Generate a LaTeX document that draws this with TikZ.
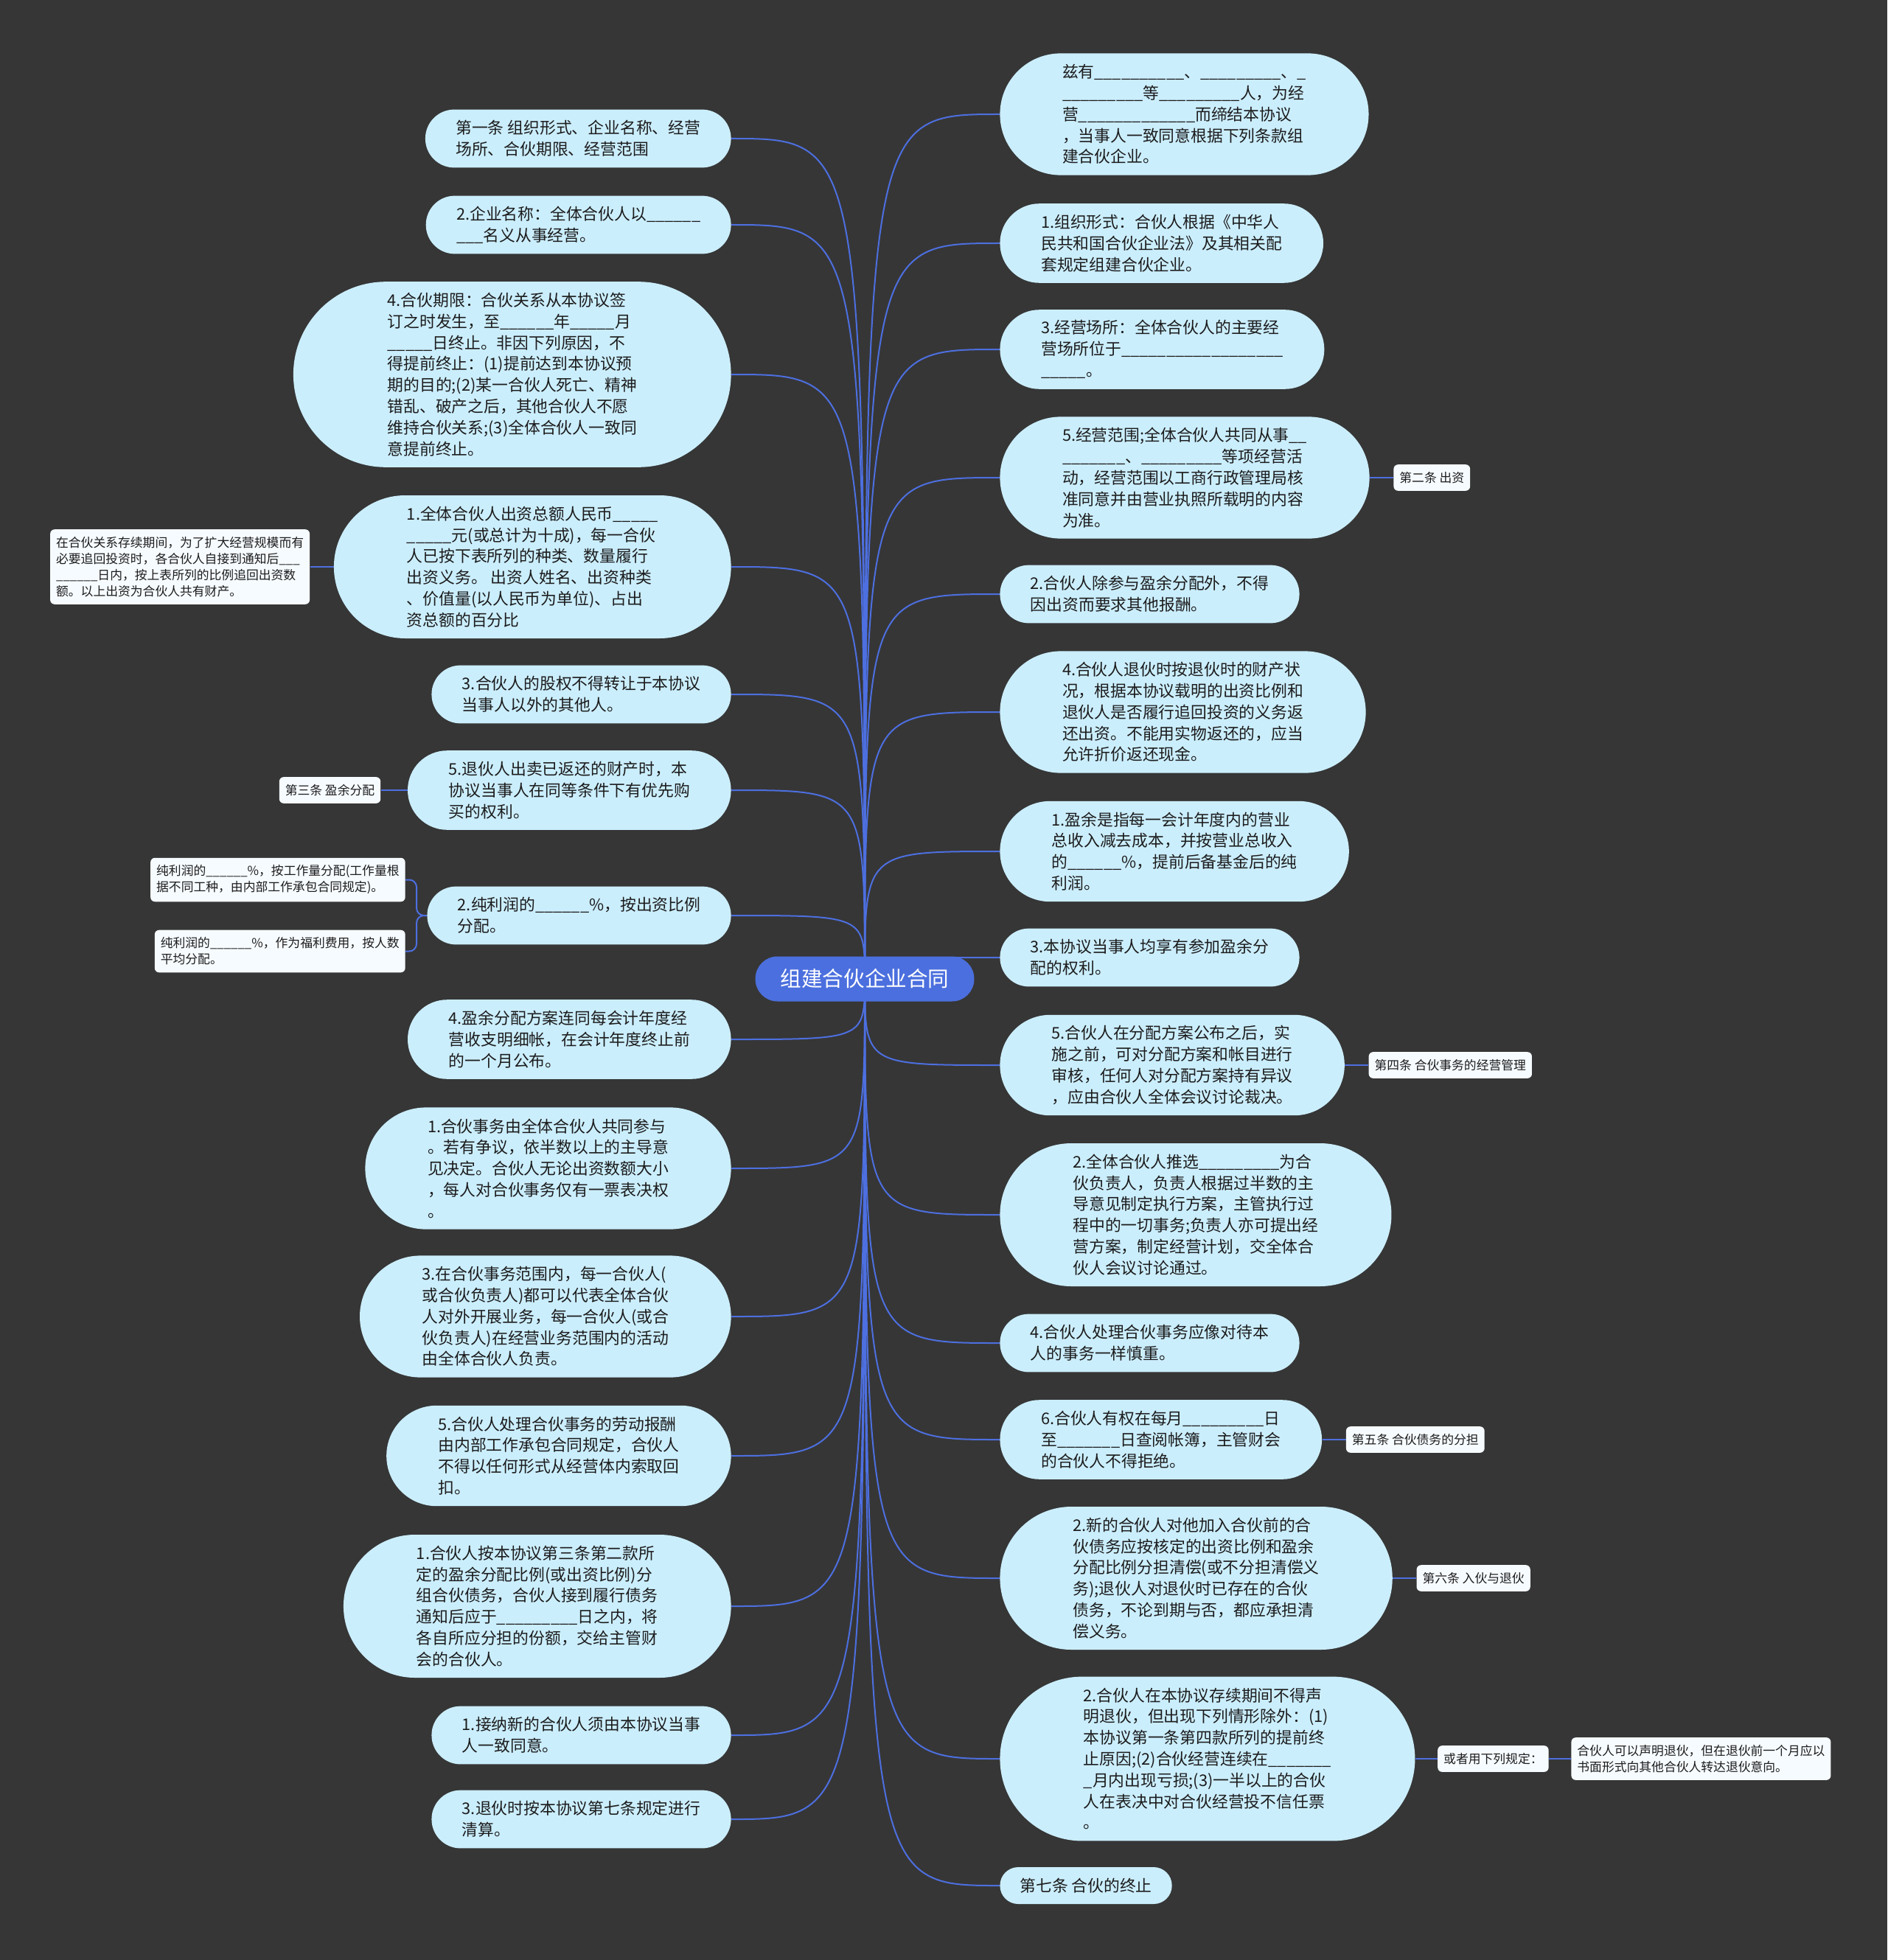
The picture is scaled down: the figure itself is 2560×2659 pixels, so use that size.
\documentclass[tikz,border=0pt]{standalone}
\usepackage{fontspec}
\newfontfamily\cjk{Noto Sans CJK SC}
\usetikzlibrary{positioning}
\definecolor{bgdark}{HTML}{363636}
\definecolor{leafblue}{HTML}{CBEEFD}
\definecolor{leaftext}{HTML}{1C1C1C}
\definecolor{notewhite}{HTML}{F6FBFF}
\definecolor{rootblue}{HTML}{4B6FDE}
\definecolor{lineblue}{HTML}{4D6FE0}
\pgfdeclarelayer{back}
\pgfdeclarelayer{edges}
\pgfsetlayers{back,edges,main}
\newcommand{\blank}[1]{\foreach \k in {1,...,#1}{\_}}

\begin{document}
\begin{tikzpicture}[x=0.5pt, y=-0.5pt]
	\def\xl{992}
	\def\xr{1356}
	\tikzset{leaf/.style={rectangle, fill=leafblue, text=leaftext, font=\cjk\fontsize{10.9}{14.4}\selectfont, align=left, inner ysep=3pt, minimum height=14.4pt*#1+10.6pt, inner xsep=7.2pt*#1+6.3pt, rounded corners=7.2pt*#1+5.2pt}}
	\tikzstyle{note}=[rectangle, rounded corners=3pt, fill=notewhite, text=leaftext, font=\cjk\fontsize{8.4}{11}\selectfont, align=left, inner xsep=4pt, inner ysep=5pt]
	\tikzstyle{rootnode}=[rectangle, rounded corners=15pt, fill=rootblue, text=white, font=\cjk\fontsize{14.3}{17}\selectfont, minimum height=30.5pt, inner xsep=17pt, inner ysep=0pt]
	\tikzstyle{edge}=[draw=lineblue, line width=1pt]
	\useasboundingbox (0,0) rectangle (2560,2659);
	\begin{pgfonlayer}{back}
		\fill[bgdark] (0,0) rectangle (2560,2659);
	\end{pgfonlayer}
	\node[rootnode] (root) at (1173,1328) {组建合伙企业合同};
	\node[leaf=2, anchor=east] (L1) at (\xl,188) {第一条 组织形式、企业名称、经营\\场所、合伙期限、经营范围};
	\node[leaf=2, anchor=east] (L2) at (\xl,305) {2.企业名称：全体合伙人以\blank{6}\\\blank{3}名义从事经营。};
	\node[leaf=8, anchor=east] (L3) at (\xl,508) {4.合伙期限：合伙关系从本协议签\\订之时发生，至\blank{6}年\blank{5}月\\\blank{5}日终止。非因下列原因，不\\得提前终止：(1)提前达到本协议预\\期的目的;(2)某一合伙人死亡、精神\\错乱、破产之后，其他合伙人不愿\\维持合伙关系;(3)全体合伙人一致同\\意提前终止。};
	\node[leaf=6, anchor=east] (L4) at (\xl,769) {1.全体合伙人出资总额人民币\blank{5}\\\blank{5}元(或总计为十成)，每一合伙\\人已按下表所列的种类、数量履行\\出资义务。 出资人姓名、出资种类\\、价值量(以人民币为单位)、占出\\资总额的百分比};
	\node[leaf=2, anchor=east] (L5) at (\xl,942) {3.合伙人的股权不得转让于本协议\\当事人以外的其他人。};
	\node[leaf=3, anchor=east] (L6) at (\xl,1072) {5.退伙人出卖已返还的财产时，本\\协议当事人在同等条件下有优先购\\买的权利。};
	\node[leaf=2, anchor=east] (L7) at (\xl,1242) {2.纯利润的\blank{6}\%，按出资比例\\分配。};
	\node[leaf=3, anchor=east] (L8) at (\xl,1410) {4.盈余分配方案连同每会计年度经\\营收支明细帐，在会计年度终止前\\的一个月公布。};
	\node[leaf=5, anchor=east] (L9) at (\xl,1585) {1.合伙事务由全体合伙人共同参与\\。若有争议，依半数以上的主导意\\见决定。合伙人无论出资数额大小\\，每人对合伙事务仅有一票表决权\\。};
	\node[leaf=5, anchor=east] (L10) at (\xl,1786) {3.在合伙事务范围内，每一合伙人(\\或合伙负责人)都可以代表全体合伙\\人对外开展业务，每一合伙人(或合\\伙负责人)在经营业务范围内的活动\\由全体合伙人负责。};
	\node[leaf=4, anchor=east] (L11) at (\xl,1975) {5.合伙人处理合伙事务的劳动报酬\\由内部工作承包合同规定，合伙人\\不得以任何形式从经营体内索取回\\扣。};
	\node[leaf=6, anchor=east] (L12) at (\xl,2179) {1.合伙人按本协议第三条第二款所\\定的盈余分配比例(或出资比例)分\\组合伙债务，合伙人接到履行债务\\通知后应于\blank{9}日之内，将\\各自所应分担的份额，交给主管财\\会的合伙人。};
	\node[leaf=2, anchor=east] (L13) at (\xl,2354) {1.接纳新的合伙人须由本协议当事\\人一致同意。};
	\node[leaf=2, anchor=east] (L14) at (\xl,2468) {3.退伙时按本协议第七条规定进行\\清算。};
	\node[leaf=5, anchor=west] (R1) at (\xr,155) {兹有\blank{10}、\blank{9}、\blank{1}\\\blank{9}等\blank{9}人，为经\\营\blank{13}而缔结本协议\\，当事人一致同意根据下列条款组\\建合伙企业。};
	\node[leaf=3, anchor=west] (R2) at (\xr,330) {1.组织形式：合伙人根据《中华人\\民共和国合伙企业法》及其相关配\\套规定组建合伙企业。};
	\node[leaf=3, anchor=west] (R3) at (\xr,474) {3.经营场所：全体合伙人的主要经\\营场所位于\blank{18}\\\blank{5}。};
	\node[leaf=5, anchor=west] (R4) at (\xr,648) {5.经营范围;全体合伙人共同从事\blank{2}\\\blank{7}、\blank{9}等项经营活\\动，经营范围以工商行政管理局核\\准同意并由营业执照所载明的内容\\为准。};
	\node[leaf=2, anchor=west] (R5) at (\xr,806) {2.合伙人除参与盈余分配外，不得\\因出资而要求其他报酬。};
	\node[leaf=5, anchor=west] (R6) at (\xr,966) {4.合伙人退伙时按退伙时的财产状\\况，根据本协议载明的出资比例和\\退伙人是否履行追回投资的义务返\\还出资。不能用实物返还的，应当\\允许折价返还现金。};
	\node[leaf=4, anchor=west] (R7) at (\xr,1155) {1.盈余是指每一会计年度内的营业\\总收入减去成本，并按营业总收入\\的\blank{6}\%，提前后备基金后的纯\\利润。};
	\node[leaf=2, anchor=west] (R8) at (\xr,1299) {3.本协议当事人均享有参加盈余分\\配的权利。};
	\node[leaf=4, anchor=west] (R9) at (\xr,1445) {5.合伙人在分配方案公布之后，实\\施之前，可对分配方案和帐目进行\\审核，任何人对分配方案持有异议\\，应由合伙人全体会议讨论裁决。};
	\node[leaf=6, anchor=west] (R10) at (\xr,1648) {2.全体合伙人推选\blank{9}为合\\伙负责人，负责人根据过半数的主\\导意见制定执行方案，主管执行过\\程中的一切事务;负责人亦可提出经\\营方案，制定经营计划，交全体合\\伙人会议讨论通过。};
	\node[leaf=2, anchor=west] (R11) at (\xr,1822) {4.合伙人处理合伙事务应像对待本\\人的事务一样慎重。};
	\node[leaf=3, anchor=west] (R12) at (\xr,1953) {6.合伙人有权在每月\blank{9}日\\至\blank{7}日查阅帐簿，主管财会\\的合伙人不得拒绝。};
	\node[leaf=6, anchor=west] (R13) at (\xr,2141) {2.新的合伙人对他加入合伙前的合\\伙债务应按核定的出资比例和盈余\\分配比例分担清偿(或不分担清偿义\\务);退伙人对退伙时已存在的合伙\\债务，不论到期与否，都应承担清\\偿义务。};
	\node[leaf=7, anchor=west] (R14) at (\xr,2386) {2.合伙人在本协议存续期间不得声\\明退伙，但出现下列情形除外：(1)\\本协议第一条第四款所列的提前终\\止原因;(2)合伙经营连续在\blank{7}\\\blank{1}月内出现亏损;(3)一半以上的合伙\\人在表决中对合伙经营投不信任票\\。};
	\node[leaf=1, anchor=west] (R15) at (\xr,2558) {第七条 合伙的终止};
	\node[note, left=16pt of L4] (N1) {在合伙关系存续期间，为了扩大经营规模而有\\必要追回投资时，各合伙人自接到通知后\blank{3}\\\blank{6}日内，按上表所列的比例追回出资数\\额。以上出资为合伙人共有财产。};
	\node[note, left=18pt of L6] (C3) {第三条 盈余分配};
	\node[note, anchor=east] (P1) at ([xshift=-14.5pt, yshift=24.25pt]L7.west) {纯利润的\blank{6}\%，按工作量分配(工作量根\\据不同工种，由内部工作承包合同规定)。};
	\node[note, anchor=east] (P2) at ([xshift=-14.5pt, yshift=-24.25pt]L7.west) {纯利润的\blank{6}\%，作为福利费用，按人数\\平均分配。};
	\node[note, right=16pt of R4] (C2) {第二条 出资};
	\node[note, right=16pt of R9] (C4) {第四条 合伙事务的经营管理};
	\node[note, right=16pt of R12] (C5) {第五条 合伙债务的分担};
	\node[note, right=16pt of R13] (C6) {第六条 入伙与退伙};
	\node[note, right=15pt of R14] (Q1) {或者用下列规定：};
	\node[note, right=15pt of Q1] (Q2) {合伙人可以声明退伙，但在退伙前一个月应以\\书面形式向其他合伙人转达退伙意向。};
	\begin{pgfonlayer}{edges}
		\foreach \i in {1,...,14}
			\draw[edge] (root.center) .. controls (root.center |- L\i.east) .. (L\i.east);
		\foreach \i in {1,...,15}
			\draw[edge] (root.center) .. controls (root.center |- R\i.west) .. (R\i.west);
		\draw[edge] (L4.west) -- (N1.east);
		\draw[edge] (L6.west) -- (C3.east);
		\draw[edge, rounded corners=5pt] (L7.west) -- ++(-7pt,0) |- (P1.east);
		\draw[edge, rounded corners=5pt] (L7.west) -- ++(-7pt,0) |- (P2.east);
		\draw[edge] (R4.east) -- (C2.west);
		\draw[edge] (R9.east) -- (C4.west);
		\draw[edge] (R12.east) -- (C5.west);
		\draw[edge] (R13.east) -- (C6.west);
		\draw[edge] (R14.east) -- (Q1.west);
		\draw[edge] (Q1.east) -- (Q2.west);
	\end{pgfonlayer}
\end{tikzpicture}
\end{document}
